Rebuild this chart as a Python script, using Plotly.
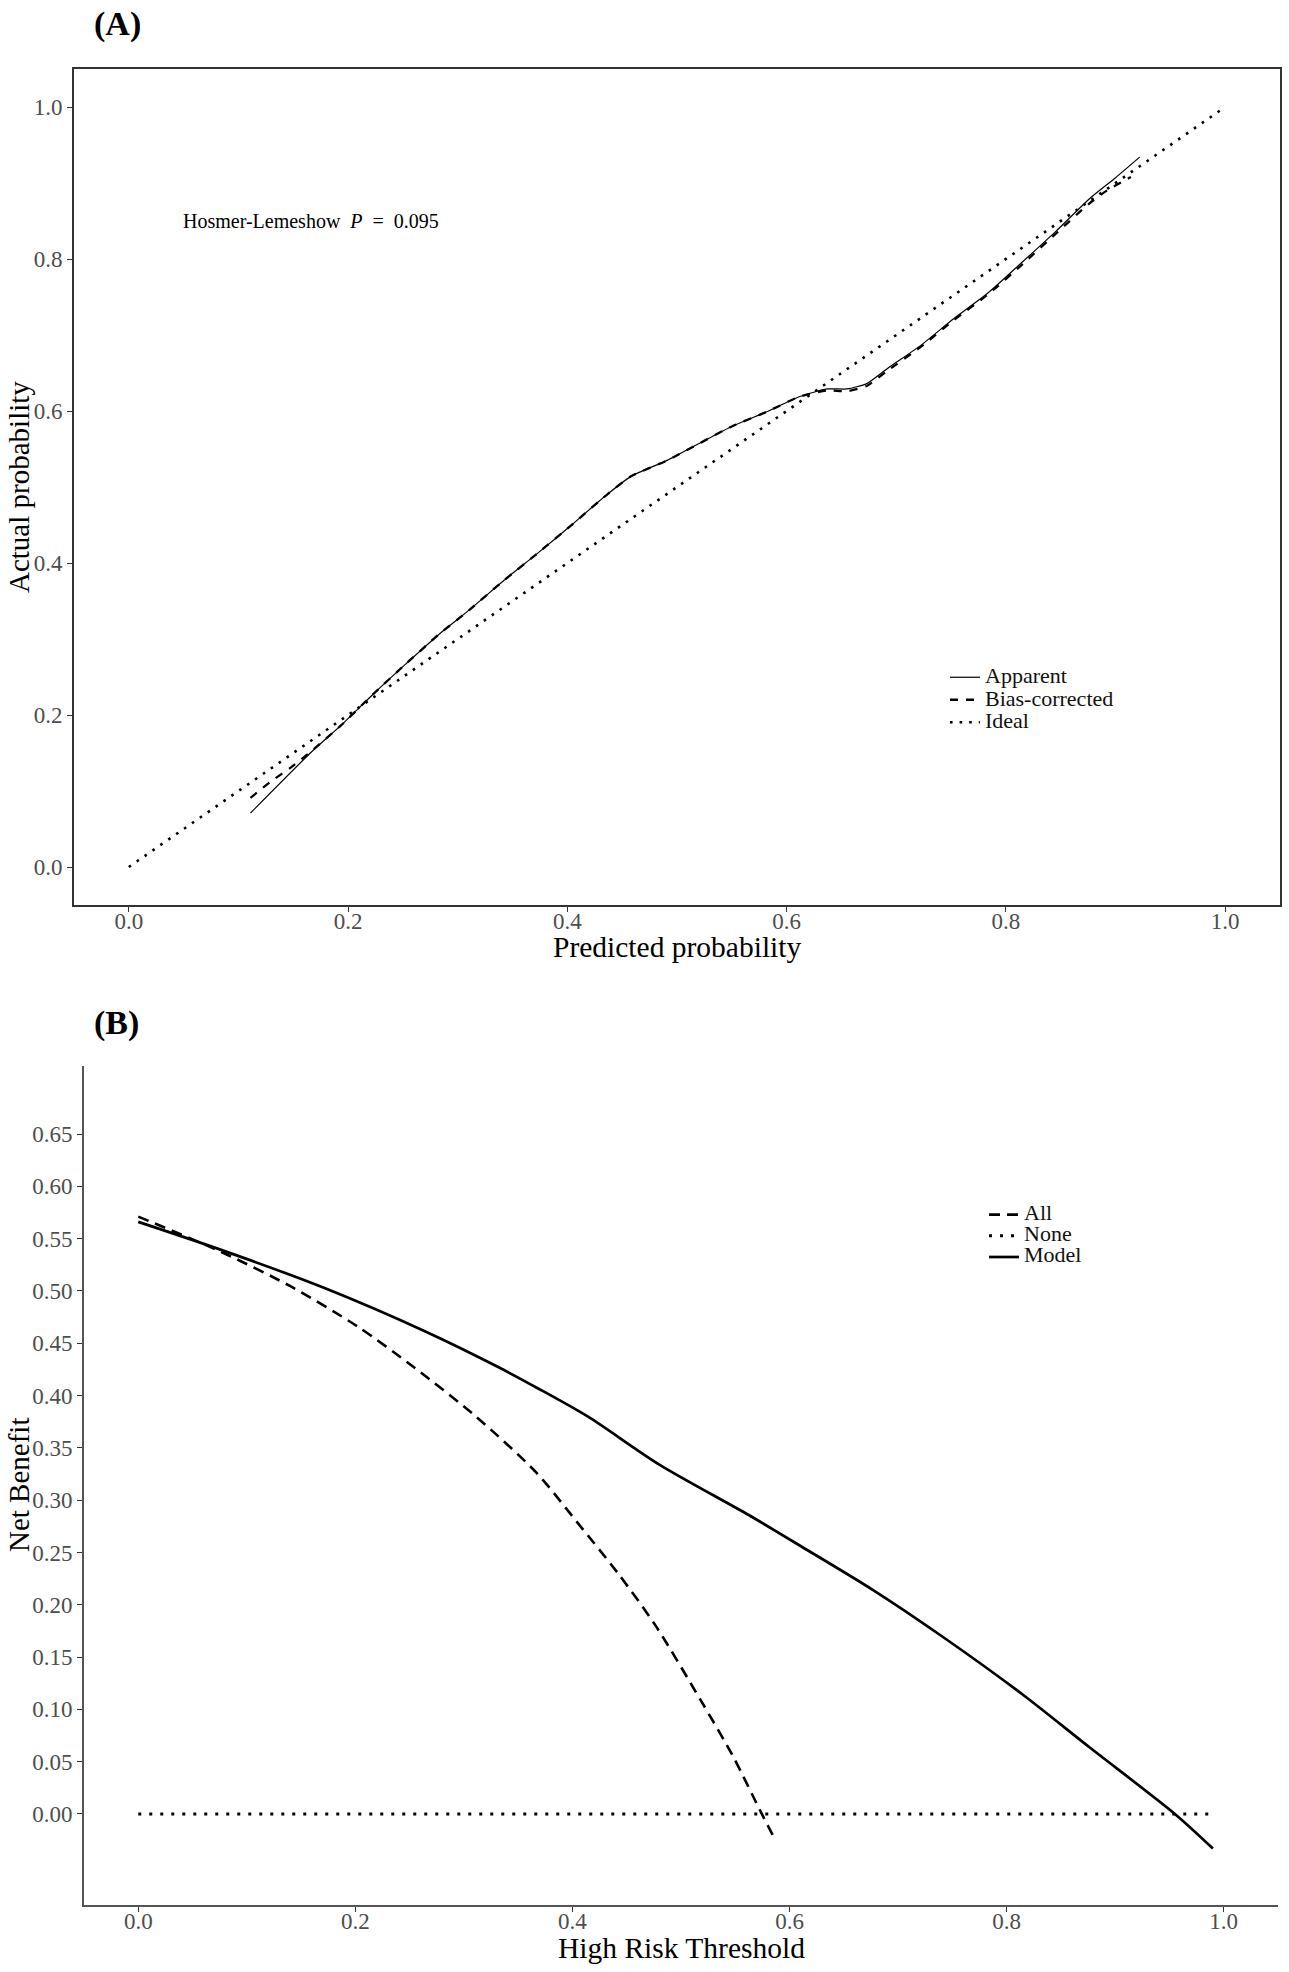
import plotly.graph_objects as go

# ---------------- Panel A: calibration curve ----------------
apparent_x = [0.111, 0.167, 0.194, 0.224, 0.251, 0.282, 0.312, 0.342, 0.373, 0.403,
              0.437, 0.458, 0.491, 0.549, 0.582, 0.612, 0.637, 0.655, 0.673, 0.692,
              0.722, 0.752, 0.785, 0.815, 0.846, 0.876, 0.900, 0.922]
apparent_y = [0.071, 0.152, 0.187, 0.229, 0.265, 0.305, 0.340, 0.377, 0.413, 0.449,
              0.491, 0.514, 0.535, 0.579, 0.599, 0.619, 0.629, 0.629, 0.636, 0.656,
              0.686, 0.721, 0.757, 0.796, 0.837, 0.879, 0.907, 0.934]

bias_x = [0.111, 0.130, 0.147, 0.167, 0.194, 0.224, 0.251, 0.282, 0.312, 0.342,
          0.373, 0.403, 0.437, 0.458, 0.491, 0.549, 0.582, 0.612, 0.637, 0.655,
          0.673, 0.692, 0.722, 0.752, 0.785, 0.815, 0.846, 0.876, 0.892, 0.914]
bias_y = [0.091, 0.113, 0.130, 0.153, 0.187, 0.229, 0.265, 0.305, 0.340, 0.377,
          0.413, 0.449, 0.491, 0.514, 0.535, 0.579, 0.599, 0.619, 0.627, 0.626,
          0.633, 0.653, 0.684, 0.719, 0.755, 0.793, 0.834, 0.873, 0.890, 0.908]

ideal_x = [0.0, 1.0]
ideal_y = [0.0, 1.0]

calib_ticks = [0.0, 0.2, 0.4, 0.6, 0.8, 1.0]
calib_ticklabels = ["0.0", "0.2", "0.4", "0.6", "0.8", "1.0"]

# ---------------- Panel B: decision curve ----------------
model_thr = [0.0, 0.077, 0.171, 0.265, 0.332, 0.368, 0.414, 0.480, 0.562, 0.612,
             0.677, 0.743, 0.815, 0.876, 0.955, 0.990]
model_nb = [0.566, 0.539, 0.503, 0.461, 0.427, 0.407, 0.380, 0.334, 0.286, 0.255,
            0.214, 0.168, 0.114, 0.064, 0.000, -0.033]

all_thr = [0.0, 0.077, 0.141, 0.202, 0.254, 0.311, 0.367, 0.405, 0.442, 0.476,
           0.518, 0.548, 0.574, 0.586]
all_nb = [0.571, 0.537, 0.504, 0.466, 0.427, 0.380, 0.326, 0.278, 0.230, 0.181,
          0.109, 0.055, 0.001, -0.023]

none_thr = [0.0, 0.99]
none_nb = [0.0, 0.0]

dca_xticks = [0.0, 0.2, 0.4, 0.6, 0.8, 1.0]
dca_xticklabels = ["0.0", "0.2", "0.4", "0.6", "0.8", "1.0"]
dca_yticks = [0.00, 0.05, 0.10, 0.15, 0.20, 0.25, 0.30, 0.35, 0.40, 0.45, 0.50, 0.55, 0.60, 0.65]
dca_yticklabels = ["%.2f" % v for v in dca_yticks]

FONT = "Liberation Serif"
W, H = 1289, 1972


def lg(name):
    return "<span style='font-size:22px'>%s</span>" % name


fig = go.Figure()

# Panel A traces
fig.add_trace(go.Scatter(x=apparent_x, y=apparent_y, mode="lines", name=lg("Apparent"),
                         line=dict(color="black", width=1.2, shape="spline", smoothing=0.6),
                         xaxis="x", yaxis="y", legend="legend"))
fig.add_trace(go.Scatter(x=bias_x, y=bias_y, mode="lines", name=lg("Bias-corrected"),
                         line=dict(color="black", width=2.3, dash="8px,8px", shape="spline", smoothing=0.6),
                         xaxis="x", yaxis="y", legend="legend"))
fig.add_trace(go.Scatter(x=ideal_x, y=ideal_y, mode="lines", name=lg("Ideal"),
                         line=dict(color="black", width=2.6, dash="2.6px,7px"),
                         xaxis="x", yaxis="y", legend="legend"))

# Panel B traces
fig.add_trace(go.Scatter(x=all_thr, y=all_nb, mode="lines", name=lg("All"),
                         line=dict(color="black", width=2.6, dash="11px,7px", shape="spline", smoothing=0.8),
                         xaxis="x2", yaxis="y2", legend="legend2"))
fig.add_trace(go.Scatter(x=none_thr, y=none_nb, mode="lines", name=lg("None"),
                         line=dict(color="black", width=3, dash="3px,8px"),
                         xaxis="x2", yaxis="y2", legend="legend2"))
fig.add_trace(go.Scatter(x=model_thr, y=model_nb, mode="lines", name=lg("Model"),
                         line=dict(color="black", width=2.7, shape="spline", smoothing=0.8),
                         xaxis="x2", yaxis="y2", legend="legend2"))

tickfont = dict(family=FONT, size=23, color="#4d4d4d")


def px(v):
    return v / W


def py(v):
    return 1 - v / H


common = dict(showgrid=False, zeroline=False, ticks="outside", ticklen=5, tickwidth=1.2,
              tickcolor="#333333", tickfont=tickfont, showline=True)

fig.update_layout(
    width=W, height=H,
    margin=dict(l=0, r=0, t=0, b=0),
    paper_bgcolor="white", plot_bgcolor="white",
    font=dict(family=FONT, color="black"),
    xaxis=dict(domain=[px(74), px(1280)], anchor="y", range=[-0.05, 1.05],
               tickvals=calib_ticks, ticktext=calib_ticklabels, ticklabelstandoff=-10,
               linecolor="#333333", linewidth=1.6, mirror=True, **common),
    yaxis=dict(domain=[py(905), py(69)], anchor="x", range=[-0.05, 1.05],
               tickvals=calib_ticks, ticktext=calib_ticklabels,
               linecolor="#333333", linewidth=1.6, mirror=True, **common),
    xaxis2=dict(domain=[px(84), px(1278)], anchor="y2", range=[-0.05, 1.05],
                tickvals=dca_xticks, ticktext=dca_xticklabels, ticklabelstandoff=-11,
                linecolor="#555555", linewidth=2, **common),
    yaxis2=dict(domain=[py(1905), py(1066)], anchor="x2", range=[-0.087, 0.715],
                tickvals=dca_yticks, ticktext=dca_yticklabels,
                linecolor="#555555", linewidth=2, **common),
    legend=dict(x=px(945), y=py(661), xanchor="left", yanchor="top",
                bgcolor="rgba(0,0,0,0)", font=dict(family=FONT, size=15, color="#111111"),
                tracegroupgap=0, itemwidth=30),
    legend2=dict(x=px(984), y=py(1199), xanchor="left", yanchor="top",
                 bgcolor="rgba(0,0,0,0)", font=dict(family=FONT, size=14, color="#111111"),
                 tracegroupgap=0, itemwidth=30),
    showlegend=True,
)

annotations = [
    dict(text="<b>(A)</b>", x=px(92), y=py(24), xref="paper", yref="paper",
         xanchor="left", yanchor="middle", showarrow=False,
         font=dict(family=FONT, size=34, color="black")),
    dict(text="<b>(B)</b>", x=px(92), y=py(1023), xref="paper", yref="paper",
         xanchor="left", yanchor="middle", showarrow=False,
         font=dict(family=FONT, size=34, color="black")),
    dict(text="Hosmer-Lemeshow  <i>P</i>  =  0.095", x=0.048, y=0.85, xref="x", yref="y",
         xanchor="left", yanchor="middle", showarrow=False,
         font=dict(family=FONT, size=20, color="black")),
    dict(text="Actual probability", x=px(19), y=py(487), xref="paper", yref="paper",
         xanchor="center", yanchor="middle", textangle=-90, showarrow=False,
         font=dict(family=FONT, size=29, color="black")),
    dict(text="Predicted probability", x=px(677), y=py(947), xref="paper", yref="paper",
         xanchor="center", yanchor="middle", showarrow=False,
         font=dict(family=FONT, size=29.5, color="black")),
    dict(text="Net Benefit", x=px(19), y=py(1485), xref="paper", yref="paper",
         xanchor="center", yanchor="middle", textangle=-90, showarrow=False,
         font=dict(family=FONT, size=29, color="black")),
    dict(text="High Risk Threshold", x=px(681), y=py(1948), xref="paper", yref="paper",
         xanchor="center", yanchor="middle", showarrow=False,
         font=dict(family=FONT, size=29.5, color="black")),
]
fig.update_layout(annotations=annotations)

fig.write_html("out.html", config={"displayModeBar": False},
               post_script="document.body.style.margin='0';")
